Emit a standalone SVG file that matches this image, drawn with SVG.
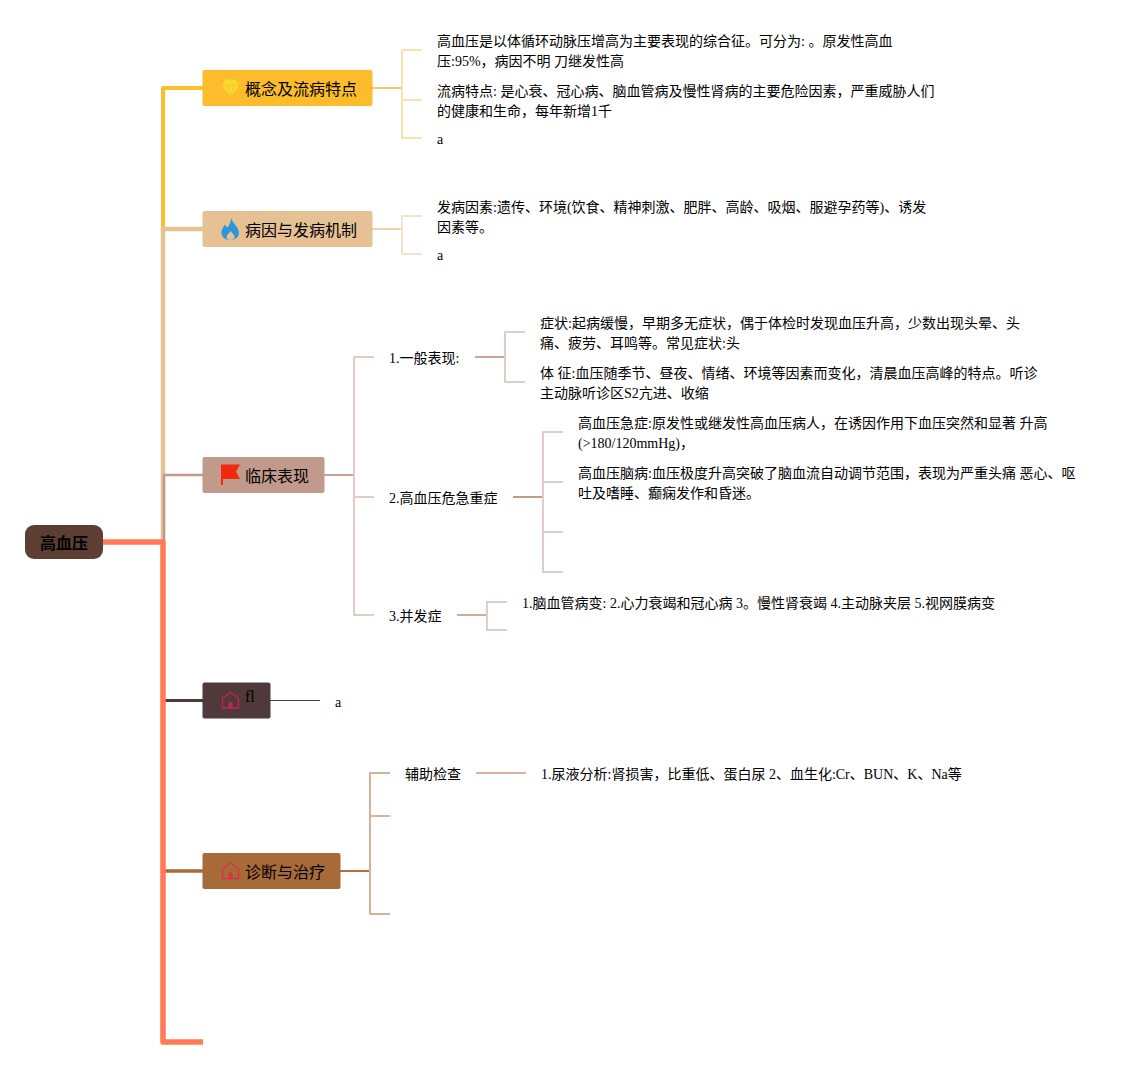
<svg xmlns="http://www.w3.org/2000/svg" width="1138" height="1067" viewBox="0 0 1138 1067">
<style>
text{font-family:"Liberation Serif","Noto Sans CJK SC",serif;font-size:14px;fill:#000}
.t{font-size:16px;font-family:"Liberation Serif","Noto Sans CJK SC",serif;fill:#000}
.c{fill:none;stroke-linejoin:round}
</style>
<rect width="1138" height="1067" fill="#fff"/>
<g id="connectors">
<path class="c" d="M163 227V88H203" stroke="#fbbe2e" stroke-width="4"/>
<path class="c" d="M163 540V229H203" stroke="#e6c194" stroke-width="4.500"/>
<path class="c" d="M164 540V475H203" stroke="#c19a8b" stroke-width="2.500"/>
<path class="c" d="M165 700.500H203" stroke="#4f393b" stroke-width="3"/>
<path class="c" d="M165 871H203" stroke="#a96a3a" stroke-width="3.500"/>
<path class="c" d="M103 542H163V1042H203" stroke="#ff7a55" stroke-width="5.500"/>
<path class="c" d="M372 88H402" stroke="#f4c96a" stroke-width="2"/>
<path class="c" d="M422 50H402V138H422M402 100H422" stroke="#fce2a8" stroke-width="2"/>
<path class="c" d="M372 229H402" stroke="#eed3b2" stroke-width="2"/>
<path class="c" d="M422 216H402V254H422" stroke="#f3e3ce" stroke-width="2"/>
<path class="c" d="M324 475H354" stroke="#c5a195" stroke-width="2"/>
<path class="c" d="M374 357H354V615H374M354 497H374" stroke="#e0cdc6" stroke-width="2"/>
<path class="c" d="M475 357H505" stroke="#c7a59a" stroke-width="2"/>
<path class="c" d="M525 332H505V382H525" stroke="#e0cdc6" stroke-width="2"/>
<path class="c" d="M513 497H543" stroke="#c19a8e" stroke-width="2"/>
<path class="c" d="M563 432H543V572H563M543 482H563M543 532H563" stroke="#e0cdc6" stroke-width="2"/>
<path class="c" d="M457 615H487" stroke="#cdaea3" stroke-width="2"/>
<path class="c" d="M507 602H487V630H507" stroke="#e0cdc6" stroke-width="2"/>
<path class="c" d="M270 700.500H320" stroke="#4f393b" stroke-width="1"/>
<path class="c" d="M340 871H370" stroke="#ad7143" stroke-width="2"/>
<path class="c" d="M390 773H370V914H390M370 816H390" stroke="#d4b29a" stroke-width="2"/>
<path class="c" d="M476 773H526" stroke="#d6b5a0" stroke-width="2"/>
</g>
<g id="root"><rect x="25" y="525" width="78" height="34" rx="9" fill="#5d3e33"/><text class="t" x="64" y="549" text-anchor="middle" style="font-weight:bold">高血压</text></g>
<g id="n1"><rect x="202.500" y="70" width="170" height="36" rx="2" fill="#fdbc2c"/>
<path d="M226 79.500H235L239.500 85L230.500 96.500L221.500 85Z" fill="#fbd92f"/><path d="M221.500 85H239.500M227 85L230.500 96.500L234 85" fill="none" stroke="#fdbc2c" stroke-width="0.800"/>
<text class="t" x="245" y="95">概念及流病特点</text></g>
<g id="n2"><rect x="202.500" y="211" width="170" height="36" rx="2" fill="#e6c194"/>
<path d="M231 218C233 224 239 227 239 233C239 237 235 240 230.500 240C225 240 221.500 237 221.500 232.500C221.500 229 223.500 227 225 224.500C226 226 226.500 227 227.500 227.500C229.500 225 231 222 231 218Z" fill="#2a96dc"/>
<path d="M230.500 231C233 234 234.500 235 234.500 237C234.500 239 232.500 240 230.500 240C228 240 226.500 239 226.500 237C226.500 235 228.500 234 230.500 231Z" fill="#e6c194"/>
<text class="t" x="245" y="236">病因与发病机制</text></g>
<g id="n3"><rect x="202.500" y="457" width="122" height="36" rx="2" fill="#c19a8c"/>
<path d="M221 464.500H240L236 471.500L240 479H223V485H221Z" fill="#f3290f"/>
<text class="t" x="245" y="482">临床表现</text></g>
<g id="n4"><rect x="202.500" y="682.500" width="68" height="36" rx="2" fill="#4f393b"/>
<path d="M222.500 698.500L230.500 692L238.500 698.500V708H222.500Z" fill="none" stroke="#c8234f" stroke-width="1.300"/><path d="M228.500 708V703.500C228.500 701 232.500 701 232.500 703.500V708Z" fill="#c8234f"/>
<text class="t" x="245" y="702">fl</text></g>
<g id="n5"><rect x="202.500" y="853" width="138" height="36" rx="2" fill="#a96a3a"/>
<path d="M222.500 869L230.500 862.500L238.500 869V878.500H222.500Z" fill="none" stroke="#d8304a" stroke-width="1.300"/><path d="M228.500 878.500V874C228.500 871.500 232.500 871.500 232.500 874V878.500Z" fill="#d8304a"/>
<text class="t" x="245" y="878">诊断与治疗</text></g>
<g id="n1a"><text x="437" y="46">高血压是以体循环动脉压增高为主要表现的综合征。可分为: 。原发性高血</text><text x="437" y="66">压:95%，病因不明 刀继发性高</text></g>
<g id="n1b"><text x="437" y="96">流病特点: 是心衰、冠心病、脑血管病及慢性肾病的主要危险因素，严重威胁人们</text><text x="437" y="116">的健康和生命，每年新增1千</text></g>
<g id="n1c"><text x="437" y="144">a</text></g>
<g id="n2a"><text x="437" y="212">发病因素:遗传、环境(饮食、精神刺激、肥胖、高龄、吸烟、服避孕药等)、诱发</text><text x="437" y="232">因素等。</text></g>
<g id="n2b"><text x="437" y="260">a</text></g>
<g id="n3a"><text x="389" y="363">1.一般表现:</text></g>
<g id="n3a1"><text x="540" y="328">症状:起病缓慢，早期多无症状，偶于体检时发现血压升高，少数出现头晕、头</text><text x="540" y="348">痛、疲劳、耳鸣等。常见症状:头</text></g>
<g id="n3a2"><text x="540" y="378">体 征:血压随季节、昼夜、情绪、环境等因素而变化，清晨血压高峰的特点。听诊</text><text x="540" y="398">主动脉听诊区S2亢进、收缩</text></g>
<g id="n3b"><text x="389" y="503">2.高血压危急重症</text></g>
<g id="n3b1"><text x="578" y="428">高血压急症:原发性或继发性高血压病人，在诱因作用下血压突然和显著 升高</text><text x="578" y="448">(&gt;180/120mmHg)，</text></g>
<g id="n3b2"><text x="578" y="478">高血压脑病:血压极度升高突破了脑血流自动调节范围，表现为严重头痛 恶心、呕</text><text x="578" y="498">吐及嗜睡、癫痫发作和昏迷。</text></g>
<g id="n3c"><text x="389" y="621">3.并发症</text></g>
<g id="n3c1"><text x="522" y="608">1.脑血管病变: 2.心力衰竭和冠心病 3。慢性肾衰竭 4.主动脉夹层 5.视网膜病变</text></g>
<g id="n4a"><text x="335" y="707">a</text></g>
<g id="n5a"><text x="405" y="779">辅助检查</text></g>
<g id="n5a1"><text x="541" y="779">1.尿液分析:肾损害，比重低、蛋白尿 2、血生化:Cr、BUN、K、Na等</text></g>
</svg>
